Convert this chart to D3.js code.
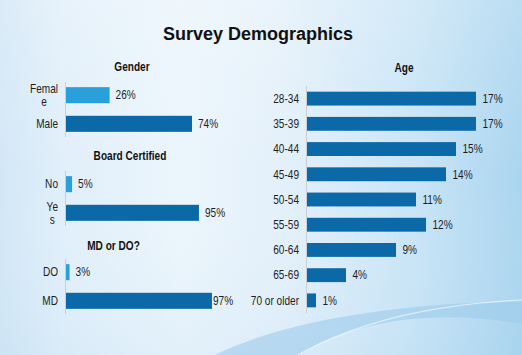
<!DOCTYPE html>
<html>
<head>
<meta charset="utf-8">
<script src="https://cdn.jsdelivr.net/npm/d3@7"></script>
<style>
html,body{margin:0;padding:0;overflow:hidden;}
svg{display:block;}
</style>
</head>
<body>
<svg id="chart" width="522" height="355"></svg>
<script>
// ---- data ----
const title = "Survey Demographics";
const genderCategories = ["Female", "Male"];
const genderValues = [26, 74];
const boardCategories = ["No", "Yes"];
const boardValues = [5, 95];
const degreeCategories = ["DO", "MD"];
const degreeValues = [3, 97];
const ageCategories = ["28-34", "35-39", "40-44", "45-49", "50-54", "55-59", "60-64", "65-69", "70 or older"];
const ageValues = [17, 17, 15, 14, 11, 12, 9, 4, 1];
const panelTitles = ["Gender", "Board Certified", "MD or DO?", "Age"];
const wrappedLabels = { "Female": ["Femal", "e"], "Yes": ["Ye", "s"] };

const W = 522, H = 355;
const svg = d3.select("#chart");
const sans = "'Liberation Sans',Arial,Helvetica,sans-serif";
const light = "#2aa0db", dark = "#0b69a7", ink = "#1e1e1e";
const SX = 0.82; // condensed (narrow) text

// condensed text helper
function ntext(parent, x, y, str, anchor, bold) {
  const g = parent.append("g").attr("transform", `translate(${x},${y}) scale(${SX},1)`);
  const t = g.append("text").attr("x", 0).attr("y", 0).attr("dy", "0.35em")
    .attr("text-anchor", anchor || "start")
    .attr("font-family", sans).attr("font-size", 12.3)
    .attr("font-weight", bold ? "bold" : "normal")
    .attr("fill", bold ? "#111" : ink).text(str);
  return t;
}

// ---- background ----
const defs = svg.append("defs");
const bg = defs.append("linearGradient").attr("id", "bg").attr("x1", 0).attr("y1", 0).attr("x2", 1).attr("y2", 0);
[[0, "#d2e7f6"], [0.12, "#e1effa"], [0.35, "#ebf5fc"], [0.55, "#e3f0fa"], [0.8, "#c8e4f6"], [1, "#aad5ef"]]
  .forEach(([o, c]) => bg.append("stop").attr("offset", o).attr("stop-color", c));
const vg = defs.append("linearGradient").attr("id", "vg").attr("x1", 0).attr("y1", 0).attr("x2", 0).attr("y2", 1);
[[0, "#ffffff", 0.2], [0.5, "#ffffff", 0], [1, "#9fcdeb", 0.12]]
  .forEach(([o, c, a]) => vg.append("stop").attr("offset", o).attr("stop-color", c).attr("stop-opacity", a));
svg.append("rect").attr("width", W).attr("height", H).attr("fill", "url(#bg)");
svg.append("rect").attr("width", W).attr("height", H).attr("fill", "url(#vg)");
// swoosh
svg.append("path")
  .attr("d", "M215,355 C280,322 400,302 522,302 L522,324 C430,308 350,322 300,355 Z")
  .attr("fill", "#9ccbeb").attr("opacity", 0.6);
svg.append("path")
  .attr("d", "M298,355 C360,320 440,304 522,300")
  .attr("fill", "none").attr("stroke", "#ffffff").attr("stroke-opacity", 0.6).attr("stroke-width", 1.2);

// ---- title ----
svg.append("text").attr("x", 258).attr("y", 39.5).attr("text-anchor", "middle")
  .attr("font-family", sans).attr("font-weight", "bold").attr("font-size", 18).attr("fill", "#111")
  .text(title);

// ---- left panels ----
const axisX = 65, labelRight = 58;
const leftPanels = [
  { title: panelTitles[0], cats: genderCategories, vals: genderValues, top: 82, span: 171.6, tx: 132, ty: 67 },
  { title: panelTitles[1], cats: boardCategories, vals: boardValues, top: 171, span: 141, tx: 130, ty: 156 },
  { title: panelTitles[2], cats: degreeCategories, vals: degreeValues, top: 259, span: 151.5, tx: 113.5, ty: 246 }
];

leftPanels.forEach(p => {
  const g = svg.append("g");
  const y = d3.scaleBand().domain(p.cats).range([p.top, p.top + 55]).paddingInner(0.44).paddingOuter(0.18);
  const x = d3.scaleLinear().domain([0, 100]).range([axisX, axisX + p.span]);

  ntext(g, p.tx, p.ty, p.title, "middle", true);

  g.selectAll("rect.bar").data(p.cats).join("rect").attr("class", "bar")
    .attr("x", x(0)).attr("y", d => y(d))
    .attr("width", (d, i) => x(p.vals[i]) - x(0)).attr("height", y.bandwidth())
    .attr("fill", (d, i) => i === 0 ? light : dark);

  g.append("line").attr("x1", axisX + 0.5).attr("x2", axisX + 0.5)
    .attr("y1", p.top).attr("y2", p.top + 55).attr("stroke", "#c9cfd4").attr("stroke-width", 1);

  p.cats.forEach((c, i) => {
    const cy = y(c) + y.bandwidth() / 2;
    const lines = wrappedLabels[c];
    if (!lines) {
      ntext(g, labelRight, cy, c, "end");
    } else {
      const offs = [-6.5, 7];
      const ws = lines.map((ln, k) => ntext(g, 0, cy + offs[k], ln, "middle"));
      const wmax = d3.max(ws, t => t.node().getComputedTextLength()) * SX;
      ws.forEach((t, k) => {
        d3.select(t.node().parentNode)
          .attr("transform", `translate(${labelRight - wmax / 2},${cy + offs[k]}) scale(${SX},1)`);
      });
    }
    ntext(g, Math.min(x(p.vals[i]) + 6, 213), cy, p.vals[i] + "%", "start");
  });
});

// ---- age panel ----
const ageAxisX = 306;
const ya = d3.scaleBand().domain(ageCategories).range([86, 313]).paddingInner(0.45).paddingOuter(0.225);
const xa = d3.scaleLinear().domain([0, 20]).range([ageAxisX, ageAxisX + 200]);
const ga = svg.append("g");
ntext(ga, 404, 68, panelTitles[3], "middle", true);
ga.selectAll("rect").data(ageCategories).join("rect")
  .attr("x", xa(0)).attr("y", d => ya(d))
  .attr("width", (d, i) => xa(ageValues[i]) - xa(0)).attr("height", ya.bandwidth())
  .attr("fill", dark);
ga.append("line").attr("x1", ageAxisX + 0.5).attr("x2", ageAxisX + 0.5)
  .attr("y1", 86).attr("y2", 313).attr("stroke", "#c9cfd4");
ageCategories.forEach((c, i) => {
  const cy = ya(c) + ya.bandwidth() / 2;
  ntext(ga, 299, cy, c, "end");
  ntext(ga, xa(ageValues[i]) + 6.5, cy, ageValues[i] + "%", "start");
});
</script>
</body>
</html>
